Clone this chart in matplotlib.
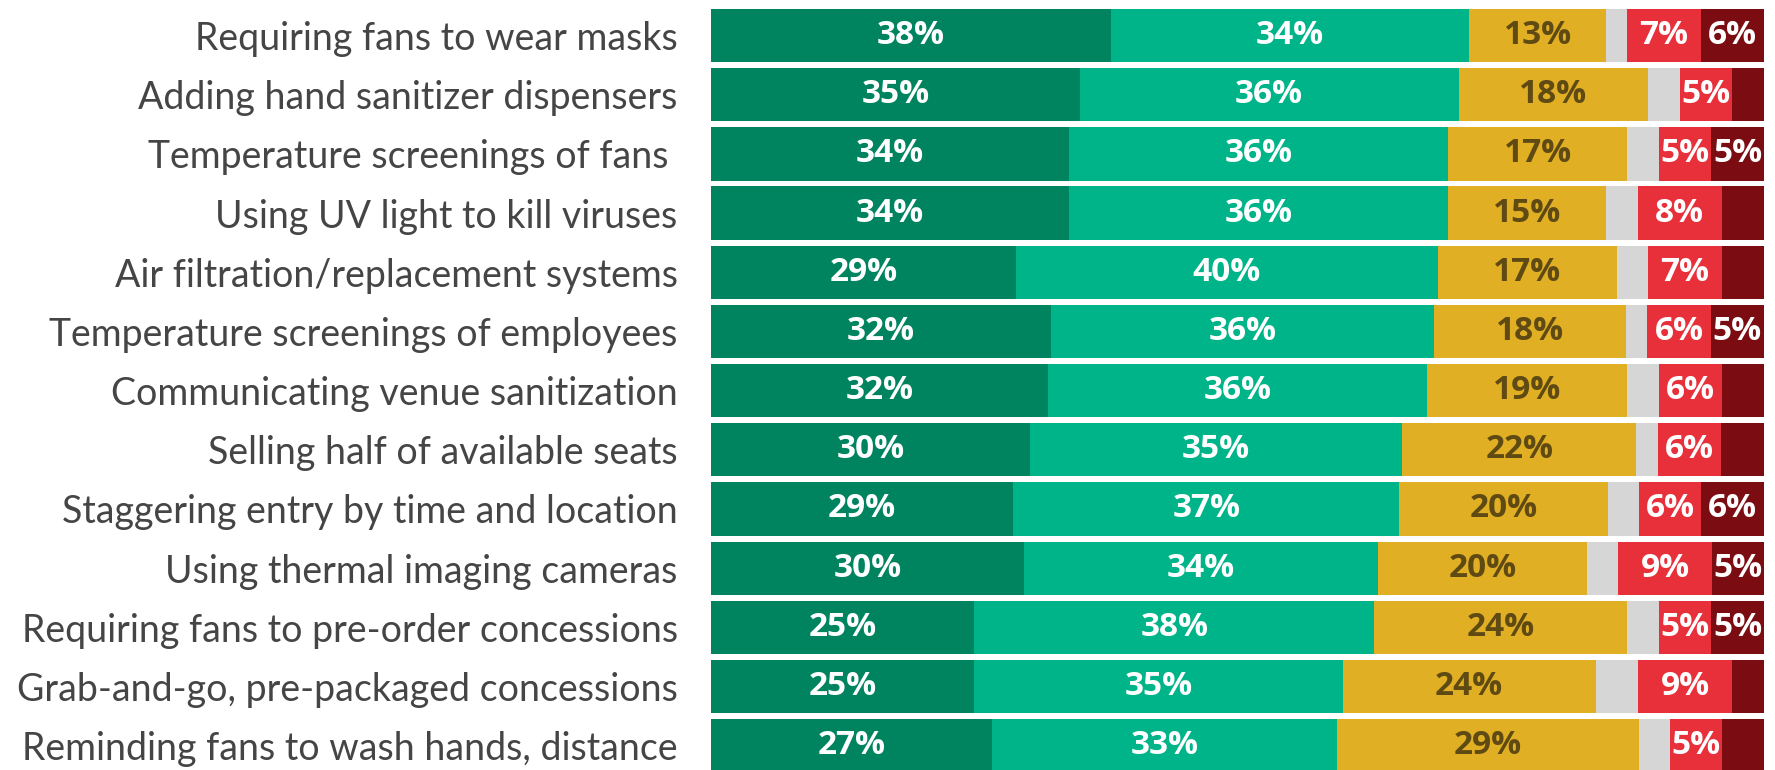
import numpy as np
import matplotlib
matplotlib.use("Agg")
import matplotlib.pyplot as plt

plt.rcParams['font.family'] = ['Lato', 'DejaVu Sans']

# Measures, top to bottom
categories = [
    "Requiring fans to wear masks",
    "Adding hand sanitizer dispensers",
    "Temperature screenings of fans ",
    "Using UV light to kill viruses",
    "Air filtration/replacement systems",
    "Temperature screenings of employees",
    "Communicating venue sanitization",
    "Selling half of available seats",
    "Staggering entry by time and location",
    "Using thermal imaging cameras",
    "Requiring fans to pre-order concessions",
    "Grab-and-go, pre-packaged concessions",
    "Reminding fans to wash hands, distance",
]

# response shares (%), one list per segment
very_much = [38, 35, 34, 34, 29, 32, 32, 30, 29, 30, 25, 25, 27]
somewhat = [34, 36, 36, 36, 40, 36, 36, 35, 37, 34, 38, 35, 33]
neutral = [13, 18, 17, 15, 17, 18, 19, 22, 20, 20, 24, 24, 29]
unsure = [2, 3, 3, 3, 3, 2, 3, 2, 3, 3, 3, 4, 3]
not_much = [7, 5, 5, 8, 7, 6, 6, 6, 6, 9, 5, 9, 5]
not_at_all = [6, 3, 5, 4, 4, 5, 4, 4, 6, 5, 5, 3, 4]

series = [very_much, somewhat, neutral, unsure, not_much, not_at_all]
colors = ["#00845F", "#00B48A", "#E1AF24", "#D6D6D6", "#E8303B", "#7B0D12"]
text_colors = ["white", "white", "#5E4A12", None, "white", "white"]
min_label = [0, 0, 0, 101, 0, 5]

data = np.array(series, dtype=float)
shares = data / data.sum(axis=0) * 100  # rows are drawn full width

fig = plt.figure(figsize=(17.75, 7.7), dpi=100)
ax = fig.add_axes([711 / 1775, 0, 1053 / 1775, 1])

y = np.arange(len(categories))
left = np.zeros(len(categories))
for k in range(len(series)):
    ax.barh(y, shares[k], left=left, height=0.9, color=colors[k], linewidth=0)
    for i in range(len(categories)):
        if data[k, i] >= min_label[k] and text_colors[k]:
            ax.text(left[i] + shares[k, i] / 2, y[i], f"{int(data[k, i])}%",
                    ha="center", va="center", fontsize=24, fontweight="bold",
                    family=["Open Sans", "DejaVu Sans"], color=text_colors[k])
    left += shares[k]

ax.set_xlim(0, 100)
ax.set_ylim(12.41, -0.6)
ax.set_yticks(y)
ax.set_yticklabels(categories, fontsize=27, color="#454545")
ax.tick_params(axis="y", length=0, pad=24)
ax.set_xticks([])
for s in ax.spines.values():
    s.set_visible(False)

fig.savefig("out.png", dpi=100)
